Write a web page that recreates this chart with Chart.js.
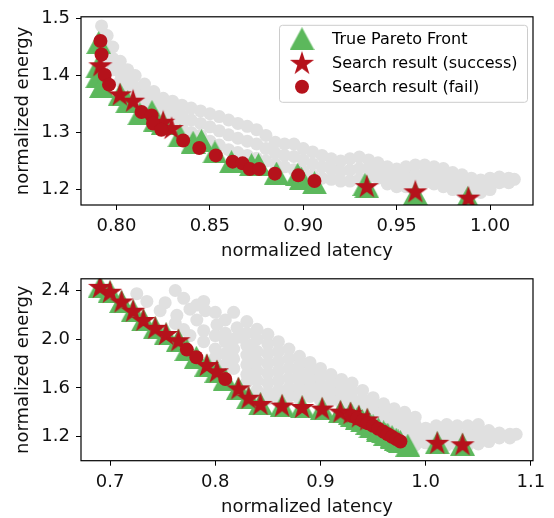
<!DOCTYPE html>
<html>
<head>
<meta charset="utf-8">
<script src="https://cdn.jsdelivr.net/npm/chart.js@4.4.0/dist/chart.umd.min.js"></script>
<style>
  html, body { margin: 0; padding: 0; background: #fff; }
  #wrap { position: relative; width: 554px; height: 518px; }
  .box { position: absolute; left: 0; width: 554px; }
</style>
</head>
<body>
<div id="wrap">
  <div class="box" style="top:0;height:262px"><canvas id="topChart"></canvas></div>
  <div class="box" style="top:262px;height:256px"><canvas id="bottomChart"></canvas></div>
</div>
<script>
// ---- data: [normalized latency, normalized energy] ----
// explored designs (gray), listed as [latency, [energies...]] columns
const topGrayCols = [[0.792,[1.487,1.465,1.44]],[0.795,[1.47,1.45,1.43]],[0.798,[1.45,1.43,1.41]],[0.802,[1.425,1.405,1.39]],[0.806,[1.41,1.39,1.375]],[0.810,[1.40,1.38,1.365]],[0.815,[1.385,1.368,1.35]],[0.820,[1.372,1.356,1.34]],[0.825,[1.36,1.345,1.33]],[0.830,[1.355,1.338,1.32]],[0.835,[1.348,1.33,1.31]],[0.840,[1.343,1.322,1.30]],[0.845,[1.338,1.316,1.295]],[0.850,[1.333,1.31,1.285]],[0.855,[1.328,1.303,1.278]],[0.860,[1.322,1.296,1.27]],[0.865,[1.316,1.29,1.265]],[0.870,[1.311,1.285,1.26]],[0.875,[1.305,1.28,1.255]],[0.880,[1.295,1.272,1.25]],[0.885,[1.283,1.264,1.245]],[0.890,[1.28,1.26,1.24]],[0.895,[1.28,1.258,1.235]],[0.900,[1.272,1.252,1.232]],[0.905,[1.266,1.245,1.225]],[0.910,[1.26,1.24,1.22]],[0.915,[1.254,1.236,1.218]],[0.920,[1.25,1.232,1.215]],[0.925,[1.254,1.234,1.215]],[0.930,[1.257,1.237,1.218]],[0.935,[1.252,1.237,1.222]],[0.940,[1.247,1.233,1.22]],[0.945,[1.24,1.225,1.21]],[0.950,[1.236,1.22,1.205]],[0.955,[1.24,1.222,1.205]],[0.960,[1.243,1.226,1.21]],[0.965,[1.243,1.227,1.212]],[0.970,[1.24,1.225,1.21]],[0.975,[1.237,1.22,1.205]],[0.980,[1.23,1.215,1.20]],[0.985,[1.226,1.21,1.195]],[0.990,[1.22,1.207,1.195]],[0.995,[1.217,1.205,1.195]],[1.000,[1.22,1.21,1.20]],[1.005,[1.222,1.212]],[1.010,[1.22,1.212]],[1.013,[1.218]]];
const topFront = [[0.7905,1.458],[0.790,1.415],[0.790,1.398],[0.792,1.381],[0.802,1.367],[0.806,1.354],[0.8125,1.333],[0.819,1.337],[0.821,1.322],[0.825,1.316],[0.834,1.294],[0.841,1.283],[0.8455,1.286],[0.8527,1.266],[0.8616,1.249],[0.8723,1.244],[0.876,1.244],[0.8857,1.229],[0.897,1.227],[0.899,1.22],[0.906,1.212],[0.933,1.209],[0.934,1.205],[0.960,1.193],[0.988,1.186]];
const topSuccess = [[0.7914,1.418],[0.8018,1.367],[0.8089,1.356],[0.825,1.319],[0.8295,1.308],[0.934,1.206],[0.960,1.197],[0.9884,1.186]];
const topFail = [[0.7914,1.4605],[0.792,1.437],[0.7937,1.401],[0.796,1.384],[0.8134,1.336],[0.8188,1.33],[0.8196,1.316],[0.824,1.305],[0.8357,1.286],[0.8443,1.273],[0.8532,1.26],[0.8622,1.249],[0.8675,1.246],[0.8714,1.236],[0.8764,1.236],[0.8848,1.228],[0.8973,1.225],[0.906,1.215]];

const bottomGrayCols = [[0.7254,[2.374]],[0.735,[2.31]],[0.7476,[2.234]],[0.7524,[2.30]],[0.762,[2.40,2.13]],[0.7635,[2.196]],[0.770,[2.336,2.08]],[0.776,[2.247,2.03]],[0.7825,[2.158,2.28]],[0.789,[2.31,2.07,1.98]],[0.7905,[2.234]],[0.800,[2.221,2.03,1.92,1.85]],[0.8016,[2.119]],[0.8095,[2.158,2.05,1.98,1.88,1.79]],[0.8175,[2.221,2.00,1.92,1.84,1.76]],[0.8207,[2.094]],[0.8238,[2.018]],[0.830,[2.145,2.05,1.95,1.87,1.79,1.71,1.65]],[0.835,[1.953]],[0.8397,[2.081,2.00,1.90,1.82,1.74,1.66,1.58]],[0.850,[2.04,1.96,1.88,1.80,1.72,1.64,1.56,1.51]],[0.860,[1.98,1.90,1.82,1.74,1.66,1.58,1.52]],[0.870,[1.92,1.84,1.76,1.68,1.60,1.53]],[0.880,[1.86,1.79,1.72,1.65,1.58,1.51]],[0.890,[1.81,1.74,1.67,1.60,1.53]],[0.900,[1.76,1.69,1.62,1.55,1.50]],[0.910,[1.71,1.64,1.57,1.50]],[0.920,[1.67,1.60,1.53,1.47]],[0.930,[1.64,1.57,1.50,1.44]],[0.940,[1.58,1.51,1.45,1.40]],[0.950,[1.52,1.46,1.40,1.35]],[0.960,[1.47,1.41,1.35,1.30]],[0.970,[1.43,1.37,1.31,1.26]],[0.980,[1.40,1.34,1.28,1.22]],[0.990,[1.36,1.30,1.24,1.18,1.13]],[1.000,[1.27,1.21,1.15]],[1.010,[1.29,1.23,1.17,1.13]],[1.020,[1.30,1.24,1.18,1.13]],[1.030,[1.29,1.23,1.17,1.13]],[1.040,[1.29,1.23,1.17,1.13]],[1.050,[1.30,1.24,1.18,1.14]],[1.060,[1.25,1.20,1.16]],[1.070,[1.23,1.19]],[1.080,[1.22,1.19]],[1.086,[1.22]]];
const bottomSuccess = [[0.6905,2.43],[0.700,2.39],[0.711,2.31],[0.722,2.234],[0.7317,2.158],[0.743,2.094],[0.7533,2.043],[0.765,1.992],[0.792,1.788],[0.8016,1.737],[0.822,1.597],[0.8317,1.52],[0.843,1.469],[0.8635,1.456],[0.8826,1.444],[0.9016,1.431],[0.919,1.406],[0.9286,1.393],[0.9365,1.367],[0.9445,1.342],[1.011,1.15],[1.035,1.138]];
const bottomFail = [[0.773,1.915],[0.782,1.852],[0.8095,1.673],[0.930,1.37],[0.935,1.35],[0.940,1.33],[0.945,1.31],[0.950,1.29],[0.955,1.265],[0.960,1.24],[0.964,1.22],[0.968,1.20],[0.972,1.18],[0.976,1.16]];
const bottomFrontExtra = [[0.948,1.28],[0.955,1.25],[0.962,1.22],[0.968,1.19],[0.974,1.165],[0.983,1.13]];
const bottomFront = bottomSuccess.concat(bottomFail, bottomFrontExtra);

const topLatTicks = [0.80, 0.85, 0.90, 0.95, 1.00];
const topEnergyTicks = [1.2, 1.3, 1.4, 1.5];
const bottomLatTicks = [0.7, 0.8, 0.9, 1.0, 1.1];
const bottomEnergyTicks = [1.2, 1.6, 2.0, 2.4];

const GREEN = '#5cb85c';
const RED = '#b5121b';
const GRAY = '#e0e0e0';
const FONT = 'DejaVu Sans';

// marker images (matplotlib-like filled triangle and star)
function makeTriangle(color) {
  const c = document.createElement('canvas');
  c.width = 25; c.height = 23;
  const g = c.getContext('2d');
  g.fillStyle = color;
  g.beginPath(); g.moveTo(12.5, 0); g.lineTo(25, 23); g.lineTo(0, 23); g.closePath(); g.fill();
  return c;
}
function makeStar(color) {
  const R = 12.7, r = R * 0.382, size = 26;
  const c = document.createElement('canvas');
  c.width = size; c.height = size;
  const g = c.getContext('2d');
  g.fillStyle = color;
  g.beginPath();
  for (let i = 0; i < 10; i++) {
    const a = -Math.PI / 2 + i * Math.PI / 5;
    const rad = i % 2 ? r : R;
    const px = size / 2 + Math.cos(a) * rad, py = size / 2 + 1 + Math.sin(a) * rad;
    if (i === 0) g.moveTo(px, py); else g.lineTo(px, py);
  }
  g.closePath(); g.fill();
  return c;
}
const triImg = makeTriangle(GREEN);
const starImg = makeStar(RED);

const toXY = arr => arr.map(p => ({ x: p[0], y: p[1] }));
const colsToXY = cols => cols.flatMap(c => c[1].map(e => ({ x: c[0], y: e })));

// box round the plot area
const frame = {
  id: 'frame',
  afterDatasetsDraw(chart) {
    const { ctx, chartArea: a } = chart;
    ctx.save();
    ctx.strokeStyle = '#000';
    ctx.lineWidth = 1.2;
    ctx.strokeRect(a.left, a.top, a.right - a.left, a.bottom - a.top);
    ctx.restore();
  }
};

// legend inside the upper right corner
const cornerLegend = {
  id: 'cornerLegend',
  afterDraw(chart) {
    const { ctx, chartArea: a } = chart;
    const items = chart.data.datasets.filter(d => d.label);
    const w = 248, h = 77, x0 = a.right - 6 - w, y0 = a.top + 8;
    ctx.save();
    ctx.fillStyle = 'rgba(255,255,255,0.8)';
    ctx.strokeStyle = '#cccccc';
    ctx.lineWidth = 1;
    ctx.beginPath();
    ctx.roundRect(x0 + 0.5, y0 + 0.5, w, h, 3);
    ctx.fill(); ctx.stroke();
    ctx.font = '16px "' + FONT + '"';
    ctx.textBaseline = 'middle';
    items.forEach((d, i) => {
      const cy = y0 + 14 + i * 24;
      const cx = x0 + 23;
      if (d.pointStyle instanceof HTMLCanvasElement) {
        ctx.drawImage(d.pointStyle, cx - d.pointStyle.width / 2, cy - d.pointStyle.height / 2);
      } else {
        ctx.fillStyle = d.pointBackgroundColor;
        ctx.beginPath(); ctx.arc(cx, cy, d.pointRadius, 0, Math.PI * 2); ctx.fill();
      }
      ctx.fillStyle = '#000';
      ctx.fillText(d.label, x0 + 53, cy + 1);
    });
    ctx.restore();
  }
};

function dot(color, radius) {
  return {
    backgroundColor: color, borderColor: color, borderWidth: 0,
    pointBackgroundColor: color, pointBorderColor: color, pointBorderWidth: 0,
    pointRadius: radius, pointHoverRadius: radius, pointHoverBorderWidth: 0
  };
}

function makeDatasets(gray, front, success, fail, withLabels) {
  return [
    Object.assign({ data: gray, order: 4, clip: 0 }, dot(GRAY, 6.5)),
    Object.assign({ label: withLabels ? 'True Pareto Front' : '', data: toXY(front), order: 3, clip: 0 }, dot(GREEN, 10), { pointStyle: triImg }),
    Object.assign({ label: withLabels ? 'Search result (success)' : '', data: toXY(success), order: 2, clip: 0 }, dot(RED, 10), { pointStyle: starImg }),
    Object.assign({ label: withLabels ? 'Search result (fail)' : '', data: toXY(fail), order: 1, clip: 0 }, dot(RED, 7))
  ];
}

function axis(min, max, ticks, decimals, title, fitSize, horizontal) {
  return {
    type: 'linear',
    min: min, max: max,
    afterBuildTicks: s => { s.ticks = ticks.map(v => ({ value: v })); },
    afterFit: s => { if (horizontal) s.height = fitSize; else s.width = fitSize; },
    grid: { display: true, drawOnChartArea: false, drawTicks: true, tickLength: 5, color: '#000' },
    border: { display: false },
    ticks: {
      autoSkip: false, maxRotation: 0,
      padding: 6,
      color: '#111',
      font: { family: FONT, size: 18 },
      callback: v => Number(v).toFixed(decimals)
    },
    title: {
      display: true, text: title, color: '#111',
      font: { family: FONT, size: 18 },
      padding: horizontal ? { top: 0, bottom: 0 } : { top: 13, bottom: 0 }
    }
  };
}

function makeChart(id, datasets, xs, ys, padding, plugins) {
  return new Chart(document.getElementById(id), {
    type: 'scatter',
    data: { datasets: datasets },
    options: {
      responsive: true,
      maintainAspectRatio: false,
      animation: false,
      events: [],
      layout: { padding: padding },
      plugins: { legend: { display: false }, tooltip: { enabled: false }, colors: { enabled: false } },
      scales: { x: xs, y: ys }
    },
    plugins: plugins
  });
}

makeChart('topChart',
  makeDatasets(colsToXY(topGrayCols), topFront, topSuccess, topFail, true),
  axis(0.781, 1.023, topLatTicks, 2, 'normalized latency', 57, true),
  axis(1.173, 1.503, topEnergyTicks, 1, 'normalized energy', 81, false),
  { top: 10, right: 21, left: 0, bottom: 0 },
  [frame, cornerLegend]);

makeChart('bottomChart',
  makeDatasets(colsToXY(bottomGrayCols), bottomFront, bottomSuccess, bottomFail, false),
  axis(0.6724, 1.102, bottomLatTicks, 1, 'normalized latency', 57.3, true),
  axis(1.003, 2.496, bottomEnergyTicks, 1, 'normalized energy', 81, false),
  { top: 3.7, right: 21, left: 0, bottom: 0 },
  [frame]);
</script>
</body>
</html>
